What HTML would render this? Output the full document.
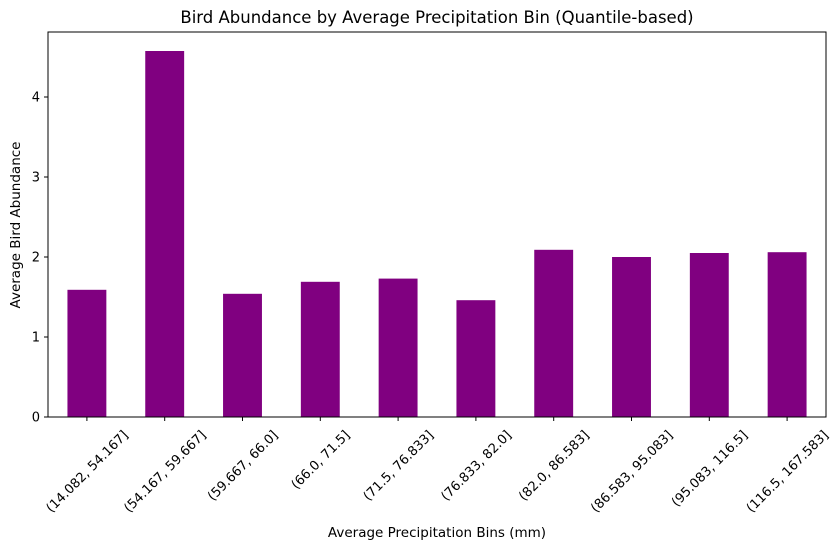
<!DOCTYPE html>
<html><head><meta charset="utf-8"><style>
body{margin:0;background:#fff}
svg text{font-family:"DejaVu Sans","Liberation Sans",sans-serif;fill:#000}
</style></head><body>
<svg id="chart" width="840" height="549" xmlns="http://www.w3.org/2000/svg">
<text x="437" y="23" font-size="16.5" text-anchor="middle">Bird Abundance by Average Precipitation Bin (Quantile-based)</text>
<g id="plot"></g>
<text x="437" y="537" font-size="13.5" text-anchor="middle">Average Precipitation Bins (mm)</text>
<text transform="translate(20,225) rotate(-90)" font-size="13.5" text-anchor="middle">Average Bird Abundance</text>
</svg>
<script>
const categories = ["(14.082, 54.167]","(54.167, 59.667]","(59.667, 66.0]","(66.0, 71.5]","(71.5, 76.833]","(76.833, 82.0]","(82.0, 86.583]","(86.583, 95.083]","(95.083, 116.5]","(116.5, 167.583]"];
const values = [1.59, 4.575, 1.54, 1.69, 1.73, 1.46, 2.09, 2.0, 2.05, 2.06];
const yTicks = [0, 1, 2, 3, 4];

const L = 48, R = 826, T = 32, B = 417;
const yMax = (B - T) / 80;
const y = v => B - v / yMax * (B - T);
const slot = (R - L) / categories.length;
const x = i => L + slot * (i + 0.5);
const NS = "http://www.w3.org/2000/svg";
const g = document.getElementById("plot");
function mk(tag, attrs) { const e = document.createElementNS(NS, tag); for (const k in attrs) e.setAttribute(k, attrs[k]); g.appendChild(e); return e; }

values.forEach((v, i) => {
  const r = mk("rect", {x: x(i) - slot / 4, y: y(v), width: slot / 2, height: B - y(v), fill: "#800080"});
  
  
});

const frame = mk("rect", {x: L, y: T, width: R - L, height: B - T, fill: "none", stroke: "#000", "stroke-width": 1});



yTicks.forEach(t => {
  const l = mk("line", {x1: L - 4, x2: L, y1: y(t), y2: y(t), stroke: "#000"});
  
  
  const tx = mk("text", {x: L - 8, y: y(t) + 4.5, "font-size": 13, "text-anchor": "end"});
  tx.textContent = t;
  
  
});

categories.forEach((c, i) => {
  const l = mk("line", {x1: x(i), x2: x(i), y1: B, y2: B + 4, stroke: "#000"});
  
  
  const tx = mk("text", {"font-size": 13, "text-anchor": "middle"});
  tx.textContent = c;
  
  
  const w = tx.getComputedTextLength();
  const h = 13;
  const bh = (w + h) * 0.7071;
  const cy = 428 + bh / 2;
  tx.setAttribute("transform", `translate(${x(i)},${cy}) rotate(-45)`);
  tx.setAttribute("y", 4.5);
});
</script>
</body></html>
